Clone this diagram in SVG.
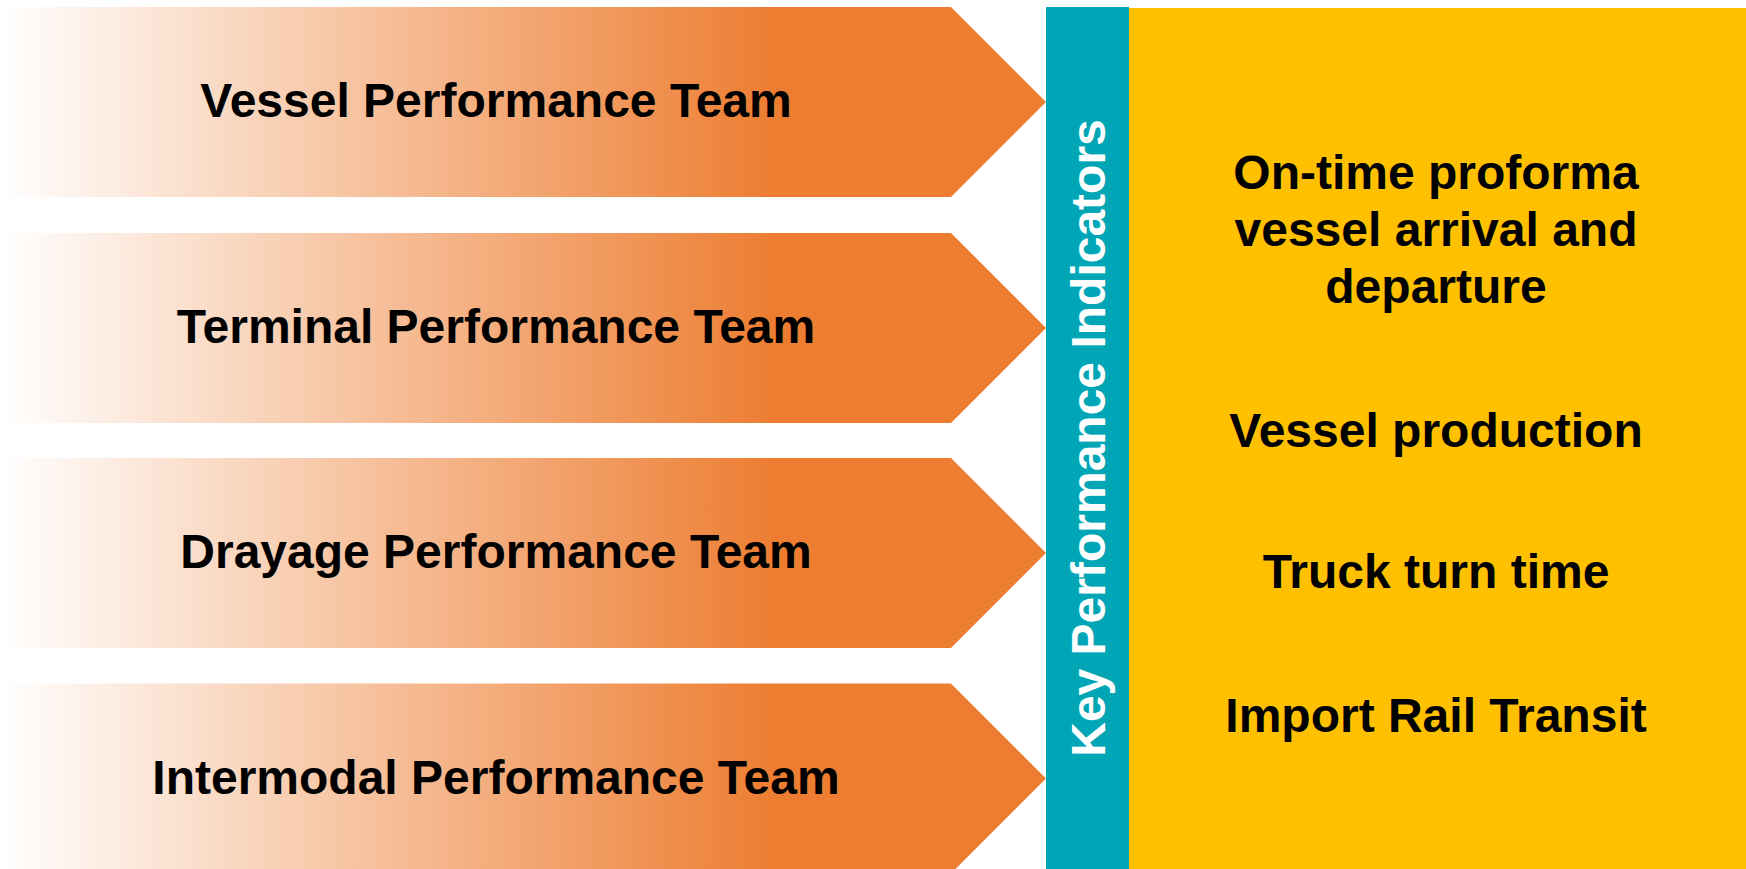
<svg xmlns="http://www.w3.org/2000/svg" width="1746" height="869" viewBox="0 0 1746 869">
  <defs>
    <linearGradient id="og" gradientUnits="userSpaceOnUse" x1="0" y1="0" x2="775" y2="0">
      <stop offset="0" stop-color="#FFFFFF"/>
      <stop offset="1" stop-color="#ED7D31"/>
    </linearGradient>
  </defs>
  <style>
    .arrow { fill: url(#og); }
    .lbl { font-family: "Liberation Sans", Arial, sans-serif; font-weight: bold; font-size: 48px; fill: #000000; text-anchor: middle; }
    .kpi { font-family: "Liberation Sans", Arial, sans-serif; font-weight: bold; font-size: 48px; fill: #FFFFFF; text-anchor: middle; }
  </style>
  <rect x="0" y="0" width="1746" height="869" fill="#FFFFFF"/>
  <g id="team-vessel">
    <polygon class="arrow" points="0,7 951,7 1046,102 951,197 0,197"/>
    <text class="lbl" x="496" y="117">Vessel Performance Team</text>
  </g>
  <g id="team-terminal">
    <polygon class="arrow" points="0,233 951,233 1046,328 951,423 0,423"/>
    <text class="lbl" x="496" y="343">Terminal Performance Team</text>
  </g>
  <g id="team-drayage">
    <polygon class="arrow" points="0,458 951,458 1046,553 951,648 0,648"/>
    <text class="lbl" x="496" y="568">Drayage Performance Team</text>
  </g>
  <g id="team-intermodal">
    <polygon class="arrow" points="0,683.5 951,683.5 1046,778.5 951,873.5 0,873.5"/>
    <text class="lbl" x="496" y="794">Intermodal Performance Team</text>
  </g>
  <g id="kpi-bar">
    <rect x="1046" y="7" width="83" height="862" fill="#00A6B6"/>
    <text class="kpi" transform="translate(1105,438) rotate(-90)" x="0" y="0">Key Performance Indicators</text>
  </g>
  <g id="kpi-list">
    <rect x="1129" y="8" width="617" height="861" fill="#FFC000"/>
    <text class="lbl" x="1436" y="189">On-time proforma</text>
    <text class="lbl" x="1436" y="245.5">vessel arrival and</text>
    <text class="lbl" x="1436" y="303">departure</text>
    <text class="lbl" x="1436" y="447">Vessel production</text>
    <text class="lbl" x="1436" y="588">Truck turn time</text>
    <text class="lbl" x="1436" y="732">Import Rail Transit</text>
  </g>
  <g id="connectors"/>
</svg>
